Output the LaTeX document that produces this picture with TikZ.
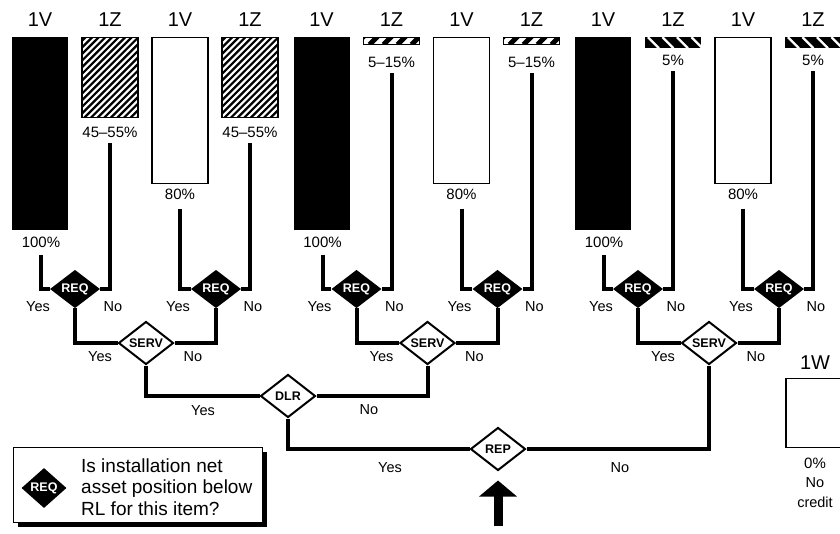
\documentclass[tikz,border=0pt]{standalone}
\usepackage{fontspec}
\setmainfont{Liberation Sans}
\usetikzlibrary{arrows.meta,positioning,shapes.geometric}

\tikzset{
  conn/.style={line width=4pt},
  bar/.style={minimum width=56pt, inner sep=0pt, anchor=north},
  barblack/.style={bar, fill=black},
  barwhite/.style={bar, draw, line width=1.3pt, fill=white},
  hatchwide/.style={bar, draw, line width=1.3pt, fill=white, path picture={
      \foreach \k in {0,...,24}
        \draw[line width=2.2pt] ([xshift=\k*6.6pt-90pt]path picture bounding box.south west) -- ++(100,-100);}},
  hatchthin/.style={bar, draw, line width=1.3pt, fill=white, path picture={
      \foreach \k in {0,...,6}
        \draw[line width=5pt] ([xshift=\k*14pt-8pt]path picture bounding box.south west) -- ++(12,-12);}},
  hatchdark/.style={bar, fill=black, path picture={
      \foreach \k in {0,...,6}
        \draw[white, line width=2.3pt] ([xshift=\k*14.5pt+3pt]path picture bounding box.north west) -- ++(11,11);}},
  toplbl/.style={font=\fontsize{20}{20}\selectfont, inner sep=0pt},
  pct/.style={font=\fontsize{15}{15}\selectfont, inner sep=0pt},
  yn/.style={font=\fontsize{14.5}{14.5}\selectfont, inner sep=0pt},
  req/.style={diamond, fill=black, text=white, inner sep=0pt,
    minimum width=50pt, minimum height=38pt, font=\fontsize{12.5}{12.5}\selectfont\bfseries},
  quest/.style={diamond, draw, line width=2pt, fill=white, inner sep=0pt,
    minimum width=55pt, minimum height=43pt, font=\fontsize{12.5}{12.5}\selectfont\bfseries},
  bigarrow/.style={line width=9pt, -{Triangle[width=37pt,length=16pt]}},
  legtxt/.style={font=\fontsize{19}{21.5}\selectfont, align=left, inner sep=0pt},
}

\begin{document}
\begin{tikzpicture}[x=1pt,y=-1pt]
  \useasboundingbox (0,0) rectangle (840,533);
  \clip (0,0) rectangle (840,533);

  % Three groups: two REQ checks feeding one SERV check
  \foreach \g/\o/\zs/\zh/\zt/\zy in {1/0/hatchwide/80/45--55\%/132,
                                     2/281.5/hatchthin/7/5--15\%/62,
                                     3/563/hatchdark/11/5\%/60} {
    % bars
    \node[barblack, minimum height=193pt] (k\g) at (40+\o,37) {};
    \node[\zs, minimum height=\zh pt] (za\g) at (110+\o,37) {};
    \node[barwhite, minimum height=146pt] (w\g) at (180+\o,37) {};
    \node[\zs, minimum height=\zh pt] (zb\g) at (250+\o,37) {};
    % bar titles
    \node[toplbl] (tk\g) at (40+\o,20) {1V};
    \node[toplbl] (tza\g) at (110+\o,20) {1Z};
    \node[toplbl] (tw\g) at (180+\o,20) {1V};
    \node[toplbl] (tzb\g) at (250+\o,20) {1Z};
    % percentages
    \node[pct] (kp\g) at (41+\o,242) {100\%};
    \node[pct] (zap\g) at (110+\o,\zy) {\zt};
    \node[pct] (wp\g) at (180+\o,194) {80\%};
    \node[pct] (zbp\g) at (250+\o,\zy) {\zt};
    % decisions
    \node[req] (ra\g) at (75+\o,289) {REQ};
    \node[req] (rb\g) at (216+\o,289) {REQ};
    \node[quest] (s\g) at (146+\o,343) {SERV};
    \node[yn] (ya\g) at (38+\o,307) {Yes};
    \node[yn] (na\g) at (113+\o,307) {No};
    \node[yn] (yb\g) at (178+\o,307) {Yes};
    \node[yn] (nb\g) at (253+\o,307) {No};
    \node[yn] (ys\g) at (100+\o,357) {Yes};
    \node[yn] (ns\g) at (193+\o,357) {No};
    % connectors
    \draw[conn] ([yshift=-7pt]kp\g.south) |- (ra\g.west);
    \draw[conn] ([yshift=-6pt]zap\g.south) |- (ra\g.east);
    \draw[conn] ([yshift=-9pt]wp\g.south) |- (rb\g.west);
    \draw[conn] ([yshift=-6pt]zbp\g.south) |- (rb\g.east);
    \draw[conn] (ra\g.south) |- (s\g.west);
    \draw[conn] (rb\g.south) |- (s\g.east);
  }

  % DLR and REP
  \node[quest] (dlr) at (288,396) {DLR};
  \node[quest] (rep) at (498,449) {REP};
  \node[yn] (ydlr) at (203,411) {Yes};
  \node[yn] (ndlr) at (369,410) {No};
  \node[yn] (yrep) at (390,468) {Yes};
  \node[yn] (nrep) at (620,468) {No};
  \draw[conn] (s1.south) |- (dlr.west);
  \draw[conn] (s2.south) |- (dlr.east);
  \draw[conn] (dlr.south) |- (rep.west);
  \draw[conn] (s3.south) |- (rep.east);

  % entry arrow
  \draw[bigarrow] ([yshift=-54pt]rep.south) -- ([yshift=-9pt]rep.south);

  % no credit bar
  \node[toplbl] (tnc) at (815,363) {1W};
  \node[barwhite, minimum height=69pt] (nc) at (814,378) {};
  \node[pct] (ncp) at (815,463) {0\%};
  \node[yn, align=center, font=\fontsize{14.5}{20}\selectfont] (nct) at (815,493) {No\\credit};

  % legend
  \node[fill=black, minimum width=249pt, minimum height=75pt, anchor=north west, inner sep=0pt] (legshad) at (18,452) {};
  \node[draw, line width=1.2pt, fill=white, minimum width=249pt, minimum height=75pt, anchor=north west, inner sep=0pt] (legbox) at (13,447) {};
  \node[req, minimum width=45pt, minimum height=40pt] (legreq) at (44,488) {REQ};
  \node[legtxt, anchor=west] (legtext) at (81,487) {Is installation net\\asset position below\\RL for this item?};
\end{tikzpicture}
\end{document}
